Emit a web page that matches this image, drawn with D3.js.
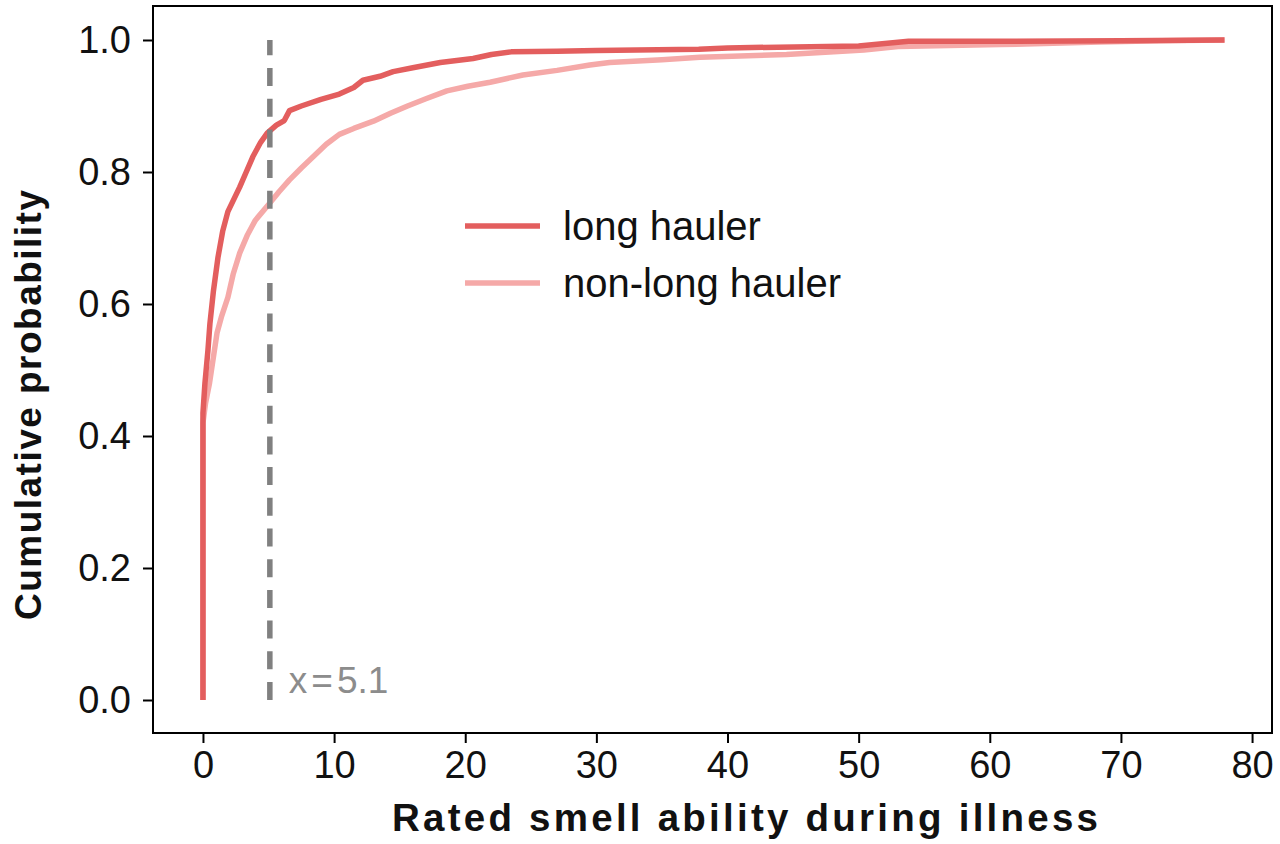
<!DOCTYPE html>
<html>
<head>
<meta charset="utf-8">
<script src="https://cdn.jsdelivr.net/npm/d3@7"></script>
<style>
  html, body { margin: 0; padding: 0; background: #fff; }
  svg { display: block; font-family: "Liberation Sans", Arial, Helvetica, sans-serif; }
</style>
</head>
<body>
<svg id="chart" width="1280" height="844"></svg>
<script>
// ---- data ----
const seriesNames = ["long hauler", "non-long hauler"];
const longX = [0, 0, 0.15, 0.38, 0.53, 0.8, 1.14, 1.5, 1.9, 2.8, 3.3, 3.8, 4.4, 4.9, 5.6, 6.2, 6.6, 7.5, 9.0, 10.4, 11.5, 12.2, 13.5, 14.5, 16.0, 18.1, 20.6, 22.0, 23.5, 27, 30, 37.8, 40, 50, 53.8, 60, 70, 77.9];
const longP = [0, 0.435, 0.48, 0.53, 0.57, 0.62, 0.67, 0.71, 0.74, 0.777, 0.80, 0.823, 0.845, 0.859, 0.871, 0.878, 0.893, 0.900, 0.910, 0.918, 0.928, 0.939, 0.945, 0.952, 0.958, 0.966, 0.972, 0.978, 0.982, 0.983, 0.984, 0.986, 0.988, 0.991, 0.998, 0.998, 0.999, 1.0];
const nonX = [0, 0, 0.2, 0.5, 1.07, 1.4, 1.9, 2.3, 2.8, 3.4, 4.0, 5.1, 5.8, 6.6, 7.5, 8.4, 9.4, 10.4, 11.5, 13.0, 14.3, 15.6, 17, 18.6, 20.2, 21.9, 24.4, 27, 29.5, 31, 35, 37.9, 44.5, 50.4, 53, 60.8, 68.4, 73, 77.9];
const nonP = [0, 0.42, 0.45, 0.48, 0.556, 0.58, 0.61, 0.645, 0.677, 0.705, 0.727, 0.753, 0.77, 0.788, 0.806, 0.823, 0.842, 0.857, 0.866, 0.877, 0.889, 0.900, 0.911, 0.923, 0.930, 0.936, 0.947, 0.954, 0.962, 0.966, 0.970, 0.974, 0.978, 0.985, 0.99, 0.993, 0.997, 0.999, 1.0];
const xTicks = [0, 10, 20, 30, 40, 50, 60, 70, 80];
const yTicks = [0.0, 0.2, 0.4, 0.6, 0.8, 1.0];
const thresholdX = 5.1;
const thresholdParts = ["x", "=", "5.1"];
const xLabel = "Rated smell ability during illness";
const yLabel = "Cumulative probability";

// ---- layout ----
const L = 153, R = 1272, T = 6, B = 733;
const x = d3.scaleLinear().domain([-3.81, 81.52]).range([L, R]);
const y = d3.scaleLinear().domain([-0.05, 1.0515]).range([B, T]);
const colors = ["#e35e5e", "#f5a9a8"];
const fontTick = 38;

const svg = d3.select("#chart");

// axes
const xAxis = d3.axisBottom(x).tickValues(xTicks).tickFormat(d3.format("d")).tickSize(10).tickPadding(8);
const yAxis = d3.axisLeft(y).tickValues(yTicks).tickFormat(d3.format(".1f")).tickSize(10).tickPadding(12);

const gx = svg.append("g").attr("transform", `translate(0,${B})`).call(xAxis);
const gy = svg.append("g").attr("transform", `translate(${L},0)`).call(yAxis);
[gx, gy].forEach(g => {
  g.select(".domain").remove();
  g.selectAll(".tick line").attr("stroke", "#000").attr("stroke-width", 2);
  g.selectAll(".tick text").attr("fill", "#111").style("font-size", fontTick + "px");
});

// series lines (light first, dark on top)
const line = d3.line().x(d => x(d[0])).y(d => y(d[1]));
const nonData = nonX.map((v, i) => [v, nonP[i]]);
const longData = longX.map((v, i) => [v, longP[i]]);
svg.append("path").datum(nonData).attr("d", line)
  .attr("fill", "none").attr("stroke", colors[1]).attr("stroke-width", 5.5).attr("stroke-linejoin", "round");
svg.append("path").datum(longData).attr("d", line)
  .attr("fill", "none").attr("stroke", colors[0]).attr("stroke-width", 5.5).attr("stroke-linejoin", "round");

// threshold line
svg.append("line")
  .attr("x1", x(thresholdX)).attr("x2", x(thresholdX))
  .attr("y1", y(0)).attr("y2", y(1))
  .attr("stroke", "#808080").attr("stroke-width", 5.5)
  .attr("stroke-dasharray", "18,12.7");
const tt = svg.append("text")
  .attr("x", x(thresholdX) + 19).attr("y", y(0) - 7)
  .attr("fill", "#8c8c8c").style("font-size", "37px");
thresholdParts.forEach((p, i) => tt.append("tspan").attr("dx", i === 0 ? 0 : 4).text(p));

// frame
svg.append("rect").attr("x", L).attr("y", T).attr("width", R - L).attr("height", B - T)
  .attr("fill", "none").attr("stroke", "#000").attr("stroke-width", 2);

// legend
const legY = [226, 283];
seriesNames.forEach((name, i) => {
  svg.append("line").attr("x1", 465).attr("x2", 540).attr("y1", legY[i]).attr("y2", legY[i])
    .attr("stroke", colors[i]).attr("stroke-width", 5.5);
  svg.append("text").attr("x", 563).attr("y", legY[i] + 14)
    .attr("fill", "#111").style("font-size", "40px").text(name);
});

// axis labels
svg.append("text")
  .attr("x", 392).attr("y", 831)
  .attr("textLength", 706).attr("lengthAdjust", "spacing")
  .style("font-size", "38.5px").style("font-weight", "bold").attr("fill", "#111")
  .text(xLabel);
svg.append("text")
  .attr("transform", "translate(41,620) rotate(-90)")
  .attr("x", 0).attr("y", 0)
  .attr("textLength", 430).attr("lengthAdjust", "spacing")
  .style("font-size", "37px").style("font-weight", "bold").attr("fill", "#111")
  .text(yLabel);
</script>
</body>
</html>
